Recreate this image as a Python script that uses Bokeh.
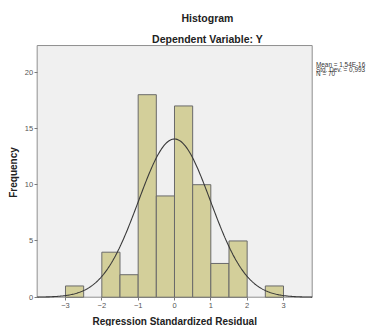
import numpy as np
from bokeh.plotting import figure
from bokeh.models import Range1d, Label, FixedTicker
from bokeh.embed import file_html
from bokeh.resources import INLINE

# ---- data ----
bin_left = [-3.0, -2.5, -2.0, -1.5, -1.0, -0.5, 0.0, 0.5, 1.0, 1.5, 2.0, 2.5]
bin_width = 0.5
counts = [1, 0, 4, 2, 18, 9, 17, 10, 3, 5, 0, 1]
x_ticks = [-3, -2, -1, 0, 1, 2, 3]
y_ticks = [0, 5, 10, 15, 20]
fit_mean = 1.54e-16
fit_sd = 0.993
fit_n = 70
title_text = "Histogram"
subtitle_text = "Dependent Variable: Y"
x_label = "Regression Standardized Residual"
y_label = "Frequency"
stats_lines = ["Mean = 1,54E-16", "Std. Dev. = 0,993", "N = 70"]

# plot-area extents (data units) and the full canvas extents
X0, X1 = -3.78, 3.79
Y0, Y1 = 0.0, 22.37
CX0, CX1 = -4.789, 5.395
CY0, CY1 = -2.604, 26.373
FONT = "Liberation Sans"

p = figure(width=370, height=326, output_backend="svg", toolbar_location=None,
           x_range=Range1d(CX0, CX1), y_range=Range1d(CY0, CY1),
           min_border=0, tools="")
p.background_fill_color = "white"
p.border_fill_color = "white"
p.outline_line_color = None
p.grid.visible = False

# plot area panel
p.quad(left=[X0], right=[X1], bottom=[Y0], top=[Y1],
       fill_color="#f0f0f0", line_color="#8f8f8f", line_width=1)

# bars
lefts = [l for l, c in zip(bin_left, counts) if c > 0]
tops = [c for c in counts if c > 0]
rights = [l + bin_width for l in lefts]
p.quad(left=lefts, right=rights, top=tops, bottom=0,
       fill_color="#d3cf9a", line_color="#6a6a6a", line_width=1)

# normal curve fitted from mean / sd / N
xs = np.linspace(X0, X1, 300)
ys = fit_n * bin_width / (fit_sd * np.sqrt(2 * np.pi)) * np.exp(-0.5 * ((xs - fit_mean) / fit_sd) ** 2)
p.line(xs, ys, line_color="#3a3a3a", line_width=1.1)

p.xaxis.fixed_location = Y0
p.yaxis.fixed_location = X0
p.xaxis.bounds = (X0, X1)
p.yaxis.bounds = (Y0, Y1)
for ax, ticks in ((p.xaxis, x_ticks), (p.yaxis, y_ticks)):
    ax.ticker = FixedTicker(ticks=ticks)
    ax.minor_tick_line_color = None
    ax.major_tick_in = 0
    ax.major_tick_out = 3
    ax.major_tick_line_color = "#7a7a7a"
    ax.axis_line_color = None
    ax.major_label_text_font = FONT
    ax.major_label_text_font_size = "7.5px"
    ax.major_label_text_color = "#555555"
p.xaxis.major_label_standoff = 3
p.yaxis.major_label_standoff = 1

def lab(**kw):
    base = dict(text_font=FONT, text_color="#222222")
    base.update(kw)
    p.add_layout(Label(**base))

title_x = 0.908
lab(x=title_x, y=Y1, y_offset=28, text=title_text, text_font_size="10.5px",
    text_font_style="bold", text_align="center", text_baseline="alphabetic")
lab(x=title_x, y=Y1, y_offset=7, text=subtitle_text, text_font_size="10.5px",
    text_font_style="bold", text_align="center", text_baseline="alphabetic")
lab(x=X0, x_offset=-23.2, y=Y0, y_offset=124.7, text=y_label, angle=np.pi / 2,
    text_font_size="10px", text_font_style="bold", text_align="center",
    text_baseline="middle")
lab(x=(X0 + X1) / 2, y=Y0, y_offset=-24.6, text=x_label, text_font_size="10px",
    text_font_style="bold", text_align="center", text_baseline="alphabetic")
for i, t in enumerate(stats_lines):
    lab(x=X1, x_offset=3.8, y=Y1, y_offset=-18.6 - 4.9 * i, text=t,
        text_font_size="6.4px", text_align="left", text_baseline="alphabetic",
        text_color="#333333")

open("out.html", "w").write(file_html(p, INLINE))
